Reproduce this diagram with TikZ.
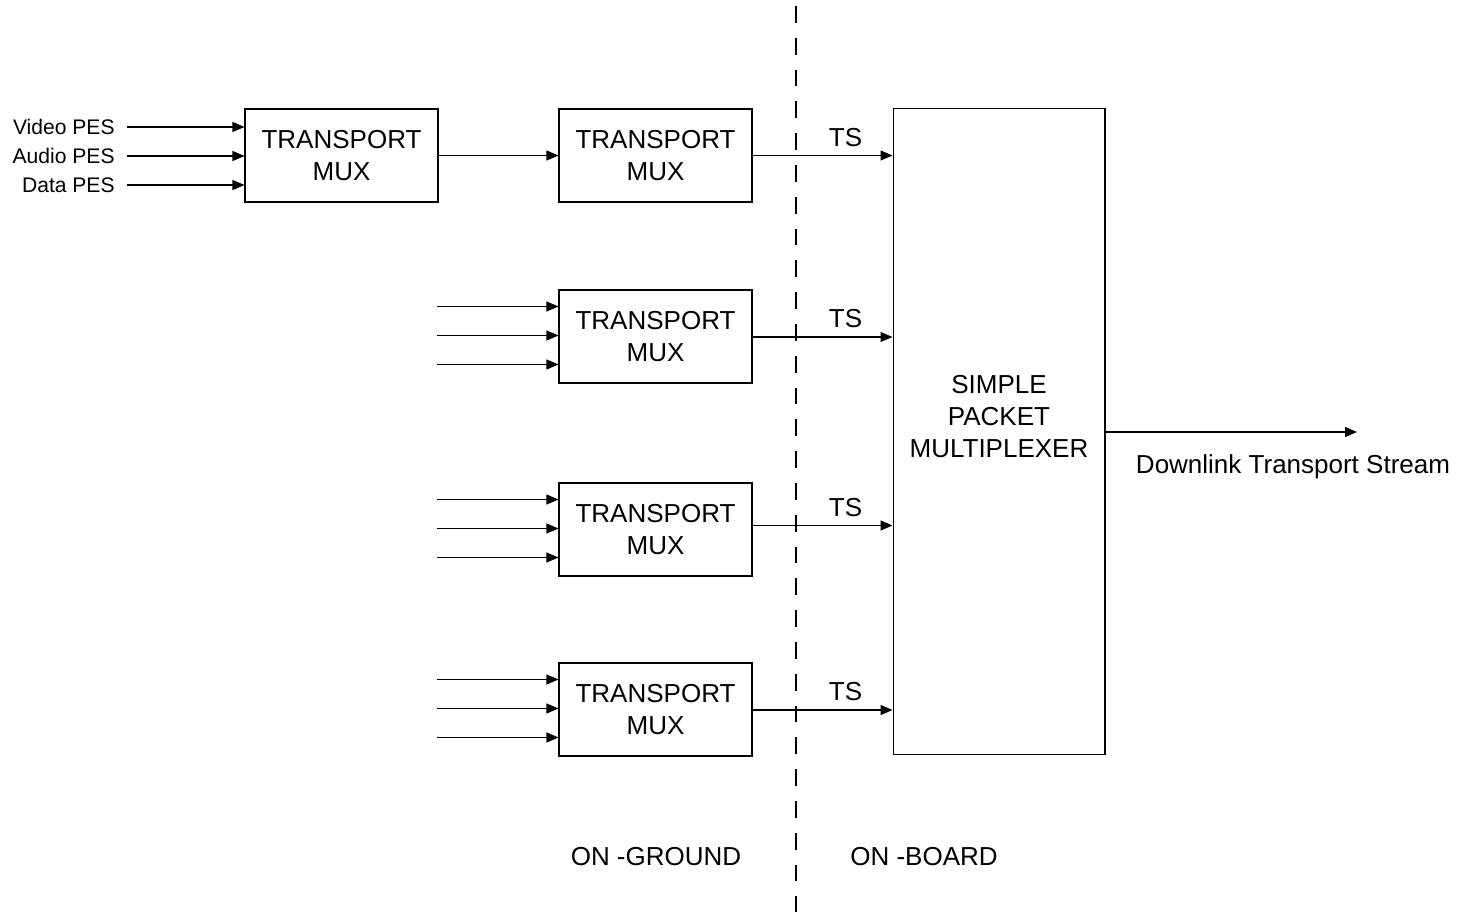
\documentclass[tikz,border=0pt]{standalone}
\usepackage{fontspec}
\setmainfont{Liberation Sans}
\usetikzlibrary{arrows.meta, positioning, calc}

\tikzset{
  muxbox/.style={draw, line width=0.6pt, minimum width=3.86cm, minimum height=1.86cm,
    inner sep=0pt, align=center, font=\fontsize{14.8}{18.7}\selectfont},
  feed/.style={-{Triangle[length=0.24cm, width=0.2cm]}, line width=0.6pt},
  pes/.style={anchor=east, inner sep=0pt, font=\fontsize{12}{14}\selectfont},
  tag/.style={inner sep=0pt, font=\fontsize{14.8}{18}\selectfont},
}

\begin{document}
\begin{tikzpicture}[x=0.02cm, y=-0.02cm]
  \useasboundingbox (0,0) rectangle (1461,912);

  % ground / board boundary
  \draw[line width=0.6pt, dash pattern=on 9.6pt off 8.5pt] (796,6) -- (796,912);

  % first stage mux
  \node[muxbox] (mux0) at (341.5,155.5) {TRANSPORT\\MUX};
  \node[pes] (vid) at (115,127) {Video PES};
  \node[pes] (aud) at (115,156) {Audio PES};
  \node[pes] (dat) at (115,185) {Data PES};
  \foreach \s in {vid,aud,dat}
    \draw[feed] ([xshift=12*0.02cm]\s.east) -- (\s.east -| mux0.west);

  % ground muxes
  \node[muxbox] (mux1) at (655.5,155.5) {TRANSPORT\\MUX};
  \node[muxbox] (mux2) at (655.5,336.5) {TRANSPORT\\MUX};
  \node[muxbox] (mux3) at (655.5,529.5) {TRANSPORT\\MUX};
  \node[muxbox] (mux4) at (655.5,709.5) {TRANSPORT\\MUX};

  % on-board multiplexer
  \node[muxbox, minimum width=4.24cm, minimum height=12.92cm] (spm) at (999,431.5) {};
  \node[tag, align=center, font=\fontsize{14.8}{18.2}\selectfont] (spmtext) at (999,417)
    {SIMPLE\\PACKET\\MULTIPLEXER};

  \draw[feed] (mux0) -- (mux1);

  \foreach \k in {2,3,4}
    \foreach \d [count=\j] in {-30,-1,28} {
      \coordinate (src\k\j) at ($(mux\k.west)+(-121,\d)$);
      \draw[feed] (src\k\j) -- (src\k\j -| mux\k.west);
    }

  % transport streams
  \foreach \k/\d in {1/0, 2/0.5, 3/-4, 4/0.5} {
    \coordinate (out\k) at ($(mux\k.east)+(0,\d)$);
    \draw[feed] (out\k) -- (out\k -| spm.west)
      node[tag, pos=0.665, yshift=18*0.02cm] (ts\k) {TS};
  }

  % downlink
  \coordinate (down) at (1357,432);
  \draw[feed] (spm.east |- down) -- (down);
  \node[tag] (downtext) at (1293,467) {Downlink Transport Stream};

  \node[tag] (ground) at (656,857) {ON -GROUND};
  \node[tag] (board) at (924,857) {ON -BOARD};
\end{tikzpicture}
\end{document}
